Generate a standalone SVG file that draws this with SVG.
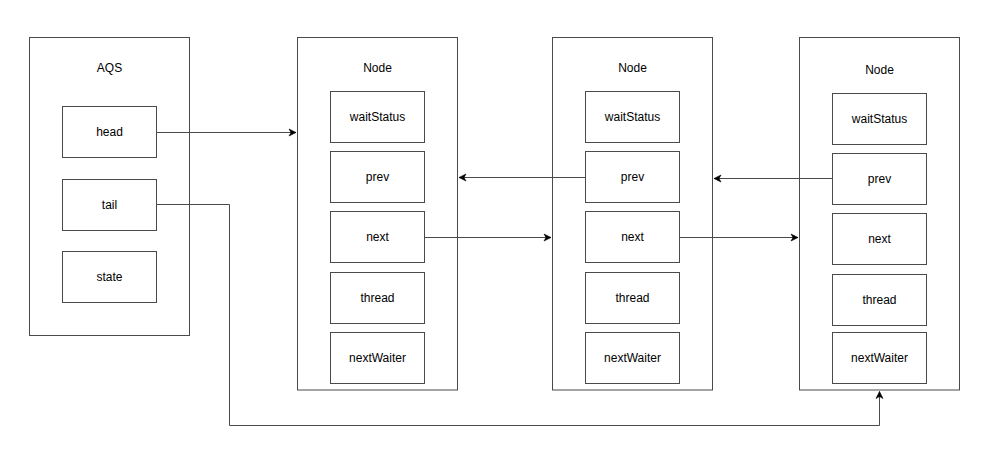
<svg xmlns="http://www.w3.org/2000/svg" width="1000" height="457" viewBox="0 0 1000 457">
<style>
.box{fill:#fff;stroke:#4a4a4a;stroke-width:1}
.t{font-family:"Liberation Sans",Arial,sans-serif;font-size:12px;fill:#000;text-anchor:middle;dominant-baseline:central}
.c{fill:none;stroke:#4a4a4a;stroke-width:1}
</style>
<defs>
<marker id="arr" markerWidth="10" markerHeight="10" refX="8" refY="5" orient="auto" markerUnits="userSpaceOnUse">
<path d="M1,1.5 L8,5 L1,8.5 L3,5 Z" fill="#000" stroke="#000" stroke-width="0.6"/>
</marker>
</defs>
<rect width="1000" height="457" fill="#fff"/>
<g id="aqs">
<rect class="box" x="29.5" y="37.5" width="160" height="298"/>
<text class="t" x="109.5" y="68">AQS</text>
<rect class="box" x="62.5" y="106.5" width="94" height="51"/>
<text class="t" x="109.5" y="132">head</text>
<rect class="box" x="62.5" y="179.5" width="94" height="51"/>
<text class="t" x="109.5" y="205">tail</text>
<rect class="box" x="62.5" y="251.5" width="94" height="51"/>
<text class="t" x="109.5" y="277">state</text>
</g>
<g id="node1">
<rect class="box" x="297.5" y="37.5" width="160" height="352.5"/>
<text class="t" x="377.5" y="68">Node</text>
<rect class="box" x="330.5" y="91.5" width="94" height="51"/>
<text class="t" x="377.5" y="117">waitStatus</text>
<rect class="box" x="330.5" y="151.5" width="94" height="51"/>
<text class="t" x="377.5" y="177">prev</text>
<rect class="box" x="330.5" y="211.5" width="94" height="51"/>
<text class="t" x="377.5" y="237">next</text>
<rect class="box" x="330.5" y="272.5" width="94" height="51"/>
<text class="t" x="377.5" y="298">thread</text>
<rect class="box" x="330.5" y="332.5" width="94" height="51"/>
<text class="t" x="377.5" y="358">nextWaiter</text>
</g>
<g id="node2">
<rect class="box" x="552.5" y="37.5" width="160" height="352.5"/>
<text class="t" x="632.5" y="68">Node</text>
<rect class="box" x="585.5" y="91.5" width="94" height="51"/>
<text class="t" x="632.5" y="117">waitStatus</text>
<rect class="box" x="585.5" y="151.5" width="94" height="51"/>
<text class="t" x="632.5" y="177">prev</text>
<rect class="box" x="585.5" y="211.5" width="94" height="51"/>
<text class="t" x="632.5" y="237">next</text>
<rect class="box" x="585.5" y="272.5" width="94" height="51"/>
<text class="t" x="632.5" y="298">thread</text>
<rect class="box" x="585.5" y="332.5" width="94" height="51"/>
<text class="t" x="632.5" y="358">nextWaiter</text>
</g>
<g id="node3">
<rect class="box" x="799.5" y="37.5" width="160" height="352.5"/>
<text class="t" x="879.5" y="70">Node</text>
<rect class="box" x="832.5" y="93.5" width="94" height="51"/>
<text class="t" x="879.5" y="119">waitStatus</text>
<rect class="box" x="832.5" y="153.5" width="94" height="51"/>
<text class="t" x="879.5" y="179">prev</text>
<rect class="box" x="832.5" y="213.5" width="94" height="51"/>
<text class="t" x="879.5" y="239">next</text>
<rect class="box" x="832.5" y="274.5" width="94" height="51"/>
<text class="t" x="879.5" y="300">thread</text>
<rect class="box" x="832.5" y="332.5" width="94" height="51"/>
<text class="t" x="879.5" y="358">nextWaiter</text>
</g>
<g id="connectors">
<path class="c" d="M156.5,132.5 H296" marker-end="url(#arr)"/>
<path class="c" d="M156.5,204.5 H229.5 V425.5 H879.5 V391.5" marker-end="url(#arr)"/>
<path class="c" d="M585.5,177.5 H459" marker-end="url(#arr)"/>
<path class="c" d="M424.5,237.5 H551" marker-end="url(#arr)"/>
<path class="c" d="M832.5,178.5 H714" marker-end="url(#arr)"/>
<path class="c" d="M679.5,237.5 H798" marker-end="url(#arr)"/>
</g>
</svg>
